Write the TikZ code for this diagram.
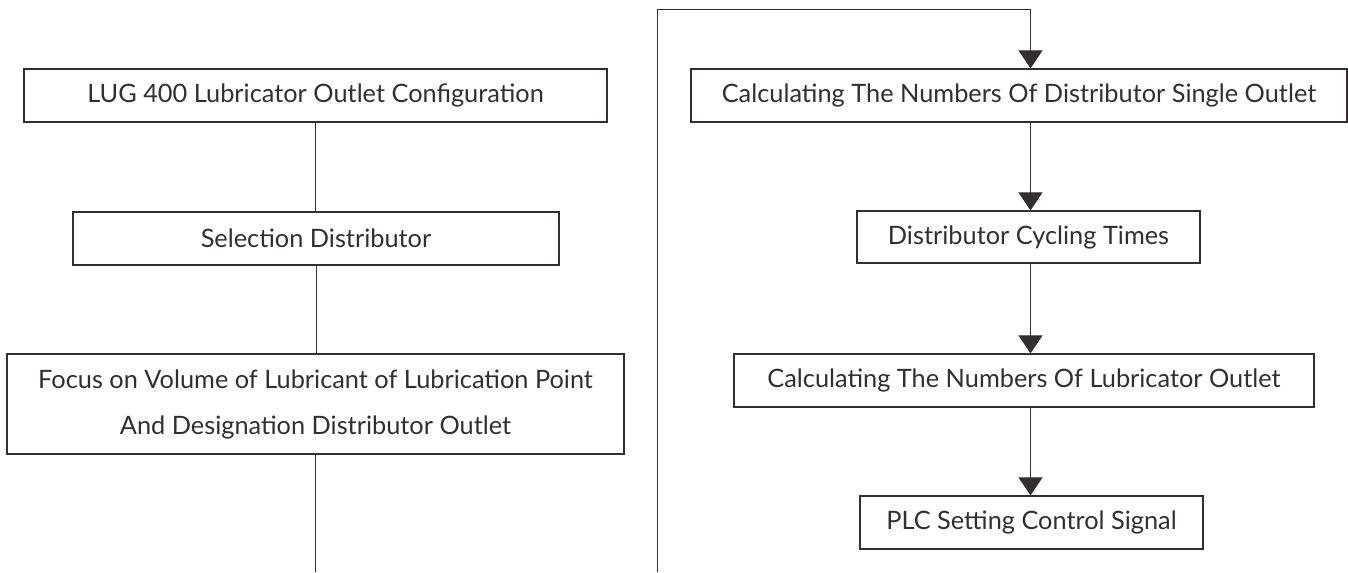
\documentclass[tikz,border=0pt]{standalone}
\usepackage{fontspec}
\setmainfont{Lato}
\usetikzlibrary{arrows.meta}

\definecolor{inkgray}{RGB}{52,46,46}
\tikzset{
  flowbox/.style={draw=inkgray,line width=0.9pt,inner sep=0pt,text=inkgray,
    align=center,font=\fontsize{19}{34.5}\selectfont},
  flowline/.style={draw=inkgray,line width=0.7pt},
  flowarrow/.style={flowline,-{Triangle[width=18pt,length=13.5pt]}},
}

\begin{document}
\begin{tikzpicture}[x=0.75pt,y=-0.75pt]
    \pgfmathsetmacro{\boxheight}{53*0.75}
    \pgfmathsetmacro{\tallheight}{100*0.75}
    \useasboundingbox (0,0) rectangle (1348,572);
    % left column
    \node[flowbox,minimum width=583*0.75pt,minimum height=\boxheight pt] (lug) at (315.5,95.5) {LUG 400 Lubricator Outlet Configuration};
    \node[flowbox,minimum width=486*0.75pt,minimum height=\boxheight pt] (select) at (316,238.5) {Selection Distributor};
    \node[flowbox,minimum width=617*0.75pt,minimum height=\tallheight pt] (focus) at (315.5,404) {Focus on Volume of Lubricant of Lubrication Point\\And Designation Distributor Outlet};
    \coordinate (leftend) at (315,572);
    \draw[flowline] (lug.south) -- (lug.south |- select.north);
    \draw[flowline] (select.south) -- (select.south |- focus.north);
    \draw[flowline] (focus.south) -- (focus.south |- leftend);
    % right column
    \coordinate (spine) at (1030.5,0);
    \node[flowbox,minimum width=656*0.75pt,minimum height=\boxheight pt] (single) at (1019,95.5) {Calculating The Numbers Of Distributor Single Outlet};
    \node[flowbox,minimum width=343*0.75pt,minimum height=52*0.75pt] (cycling) at (1028.5,237) {Distributor Cycling Times};
    \node[flowbox,minimum width=580*0.75pt,minimum height=\boxheight pt] (lubout) at (1024,380.5) {Calculating The Numbers Of Lubricator Outlet};
    \node[flowbox,minimum width=343*0.75pt,minimum height=\boxheight pt] (plc) at (1031.5,522.5) {PLC Setting Control Signal};
    \draw[flowarrow] (single.south -| spine) -- (cycling.north -| spine);
    \draw[flowarrow] (cycling.south -| spine) -- (lubout.north -| spine);
    \draw[flowarrow] (lubout.south -| spine) -- (plc.north -| spine);
    % return line
    \coordinate (loopbottom) at (657,572);
    \coordinate (looptop) at (657,9);
    \draw[flowarrow] (loopbottom) -- (looptop) -| (single.north -| spine);
\end{tikzpicture}
\end{document}
